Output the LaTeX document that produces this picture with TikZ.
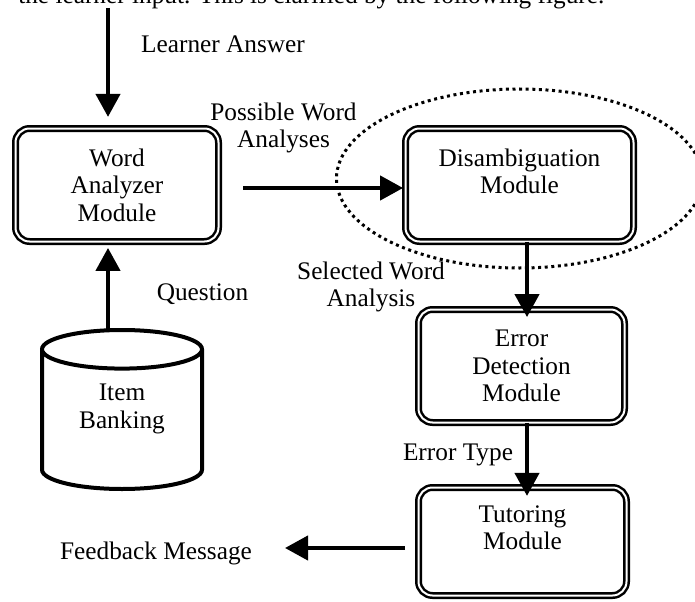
\documentclass[tikz,border=0pt]{standalone}
\usepackage{fontspec}
\setmainfont{Liberation Serif}
\usetikzlibrary{arrows.meta,positioning,shapes.geometric,calc}

\begin{document}
\begin{tikzpicture}[
  node distance=1.7cm,
  font=\fontsize{18}{19.6}\selectfont,
  module/.style={rectangle, rounded corners=0.35cm, draw, double, line width=0.0625cm, double distance=0.05cm, align=center, minimum height=2.825cm, inner sep=0pt, outer sep=0pt},
  store/.style={cylinder, shape border rotate=90, draw, line width=0.1cm, aspect=0.45, minimum width=4cm, minimum height=3.975cm, align=center, inner sep=0pt, outer sep=0pt},
  group/.style={ellipse, draw, line width=0.075cm, dash pattern=on 0.075cm off 0.09cm, inner sep=0pt, outer sep=0pt},
  lbl/.style={align=center, inner sep=0pt},
  arrow/.style={-{Triangle[length=0.575cm, width=0.6cm]}, line width=0.105cm}
]

\useasboundingbox (0,0) rectangle (17.375,15.025);
\clip (0,0) rectangle (17.375,15.025);

\node[module, minimum width=5.075cm] (word) at (2.925,10.4) {Word\\Analyzer\\Module};
\node[module, minimum width=5.7cm, right=4.675cm of word] (disamb) {Disambiguation\\Module\\\phantom{M}};
\node[module, minimum width=5.15cm, below=1.7cm of disamb, xshift=0.05cm] (err) {Error\\Detection\\Module};
\node[module, minimum width=5.2cm, minimum height=2.7cm, below=1.625cm of err, xshift=0.025cm] (tut) {Tutoring\\Module\\\phantom{M}};
\node[store, below=2.2125cm of word, xshift=0.125cm] (bank) {Item\\Banking\\\phantom{M}};
\node[group, minimum width=9.15cm, minimum height=4.475cm] (focus) at ([yshift=0.1625cm]disamb.center) {};

\coordinate (in) at (2.7,14.825);
\coordinate (out) at (7.125,1.325);

\draw[arrow, shorten >=0.29cm] (in) -- (in |- word.north);
\draw[arrow, shorten >=0.16cm] (bank.north -| in) -- (in |- word.south);
\draw[arrow, shorten <=0.6125cm, shorten >=0.06cm] ([yshift=-0.075cm]word.east) -- ([yshift=-0.075cm]disamb.west);
\draw[arrow, shorten >=-0.19cm] ([xshift=0.1875cm]disamb.south) -- ([xshift=0.1875cm]disamb.south |- err.north);
\draw[arrow, shorten >=-0.21cm] ([xshift=0.1375cm]err.south) -- ([xshift=0.1375cm]err.south |- tut.north);
\draw[arrow, shorten <=0.3375cm] (tut.west |- out) -- (out);

\node[lbl, anchor=base west] (intro) at (0.45,14.925) {the learner input. This is clarified by the following figure.};
\node[lbl, anchor=base] (answer) at (5.575,13.7) {Learner Answer};
\node[lbl] (possible) at (7.0875,11.8275) {Possible Word\\Analyses};
\node[lbl, anchor=base] (question) at (5.0625,7.525) {Question};
\node[lbl] (selected) at (9.275,7.8475) {Selected Word\\Analysis};
\node[lbl, anchor=base] (errtype) at (11.45,3.525) {Error Type};
\node[lbl, anchor=base] (feedback) at (3.9,1.05) {Feedback Message};

\end{tikzpicture}
\end{document}
